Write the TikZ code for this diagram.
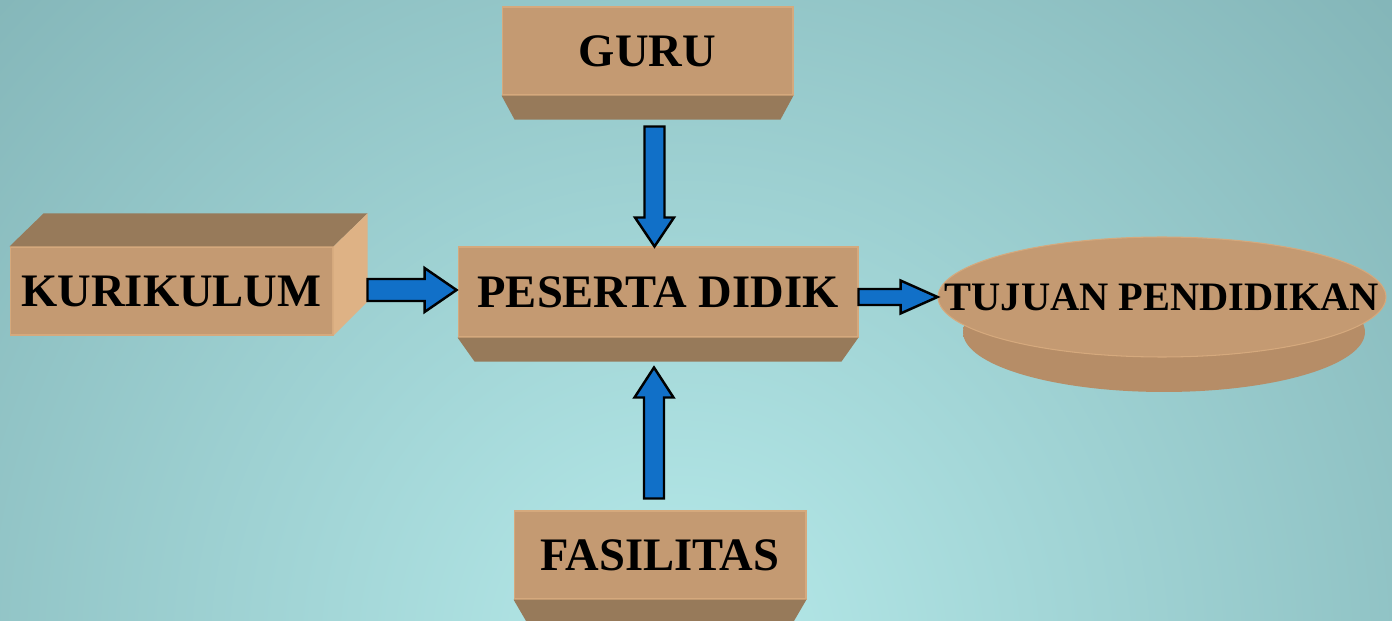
\documentclass[tikz,border=0pt]{standalone}
\usepackage{fontspec}
\setmainfont{Liberation Serif}
\usetikzlibrary{calc,positioning,shapes.geometric}
\definecolor{facefront}{HTML}{C49A72}
\definecolor{facedark}{HTML}{977A5A}
\definecolor{faceside}{HTML}{DEB285}
\definecolor{faceedge}{HTML}{D5A97D}
\definecolor{sidelight}{HTML}{B68D67}
\definecolor{sidedark}{HTML}{A07D5B}
\definecolor{arrowblue}{HTML}{1170C8}
\definecolor{bginner}{HTML}{B6EAEA}
\definecolor{bgouter}{HTML}{6D9EA2}
\tikzset{box/.style={fill=facefront,draw=faceedge,line width=0.6pt,inner sep=0pt,
    font=\fontsize{26.5}{30}\selectfont\bfseries}}
\tikzset{flow shaft/.store in=\flowshaft,flow head/.store in=\flowhead,
  flow tip/.store in=\flowtip,flow shaft=0.2cm,flow head=0.39cm,flow tip=0.58cm}
\tikzset{flow/.style={draw=black,line width=1.4pt,fill=arrowblue,line join=miter,
    to path={($(\tikztotarget)!\flowtip!(\tikztostart)$) coordinate (hb)
      ($(\tikztostart)!\flowshaft!90:(\tikztotarget)$)
      -- ($(hb)!\flowshaft!90:(\tikztotarget)$)
      -- ($(hb)!\flowhead!90:(\tikztotarget)$) -- (\tikztotarget)
      -- ($(hb)!\flowhead!-90:(\tikztotarget)$)
      -- ($(hb)!\flowshaft!-90:(\tikztotarget)$)
      -- ($(\tikztostart)!\flowshaft!-90:(\tikztotarget)$) -- cycle}}}
\begin{document}
\begin{tikzpicture}[x=0.02cm,y=-0.02cm]
  \useasboundingbox (0,0) rectangle (1392,621);
  % background
  \begin{scope}
    \clip (0,0) rectangle (1392,621);
    \shade[inner color=bginner,outer color=bgouter] (680,650) circle (28cm);
  \end{scope}
  % boxes
  \node[box,minimum width=8cm,minimum height=1.8cm] (peserta) at (658,292) {PESERTA DIDIK};
  \node[box,minimum width=5.82cm,minimum height=1.76cm] (guru) at (647.5,51) {GURU};
  \node[box,minimum width=5.84cm,minimum height=1.76cm] (fasilitas) at (660,555) {FASILITAS};
  \node[box,minimum width=6.46cm,minimum height=1.76cm] (kurikulum) at (171.5,291) {KURIKULUM};
  \foreach \b/\d in {guru/13,peserta/17,fasilitas/14}
    \fill[facedark] (\b.south west) -- (\b.south east) -- ([shift={(-\d,24)}]\b.south east)
      -- ([shift={(\d,24)}]\b.south west) -- cycle;
  \fill[facedark] (kurikulum.north west) -- ([shift={(34,-33)}]kurikulum.north west)
    -- ([shift={(34,-33)}]kurikulum.north east) -- (kurikulum.north east) -- cycle;
  \fill[faceside] (kurikulum.north east) -- ([shift={(34,-33)}]kurikulum.north east)
    -- ([shift={(34,-34)}]kurikulum.south east) -- (kurikulum.south east) -- cycle;
  % disc
  \shade[left color=sidelight,middle color=sidedark,right color=sidelight]
    (1164,332) ellipse [x radius=4.02cm,y radius=1.2cm];
  \node[box,ellipse,minimum width=8.96cm,minimum height=2.4cm] (tujuan) at (1162,297) {};
  \node[font=\fontsize{23}{27}\selectfont\bfseries,inner sep=0pt] (tujuan-text) at (tujuan) {TUJUAN PENDIDIKAN};
  % arrows
  \draw[flow] ([shift={(7,31)}]guru.south) to ([shift={(-3.5,0)}]peserta.north);
  \draw[flow,flow tip=0.6cm] ([shift={(-6,-12)}]fasilitas.north) to ([shift={(-4,30)}]peserta.south);
  \draw[flow,flow shaft=0.22cm,flow head=0.44cm,flow tip=0.64cm]
    ([shift={(34,-1)}]kurikulum.east) to ([shift={(-1,-2)}]peserta.west);
  \draw[flow,flow shaft=0.16cm,flow head=0.33cm,flow tip=0.74cm]
    ([shift={(0,5)}]peserta.east) to (tujuan.west);
\end{tikzpicture}
\end{document}
